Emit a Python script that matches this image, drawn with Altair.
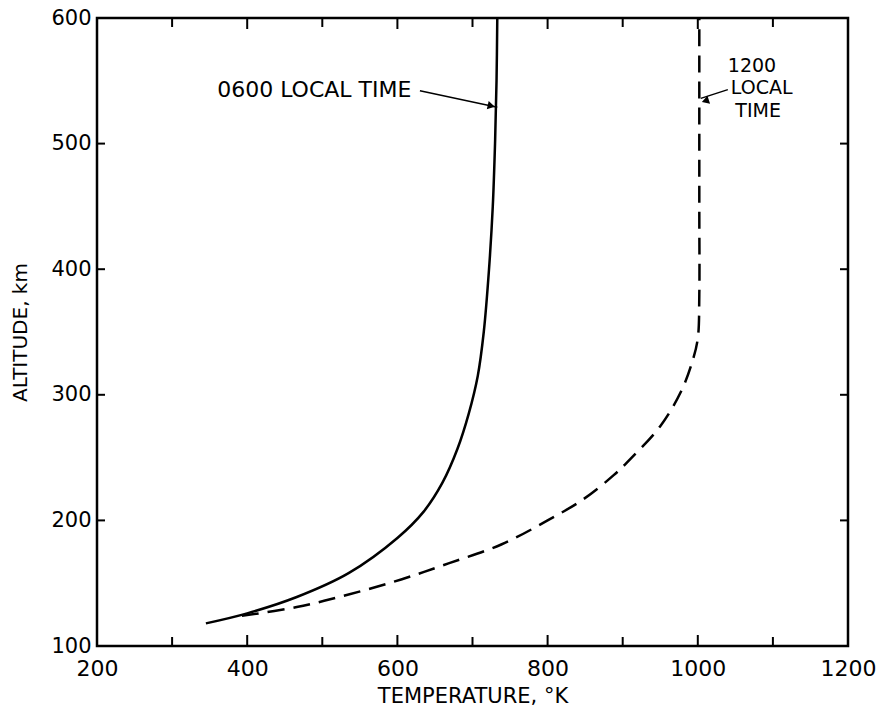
import altair as alt
import pandas as pd

# Thermospheric temperature profiles: altitude (km) against temperature (K)
alt_0600 = [118, 126, 139, 158, 186, 207, 230, 257, 285, 315, 350, 400, 450, 500, 550, 600]
temp_0600 = [345, 400, 466, 535, 600, 635, 660, 680, 695, 707, 715, 722, 727, 730, 732, 733]

alt_1200 = [124, 131, 141, 153, 166, 181, 200, 217, 236, 250, 275, 303, 327, 345, 380, 450, 600]
temp_1200 = [393, 466, 535, 605, 669, 739, 800, 848, 888, 912, 950, 978, 993, 1000, 1002, 1002, 1002]

# Axis labels and inner tick positions
x_labels = [200, 400, 600, 800, 1000, 1200]
y_labels = [100, 200, 300, 400, 500, 600]
x_major_ticks = [400, 600, 800, 1000]
x_minor_ticks = [300, 500, 700, 900, 1100]
y_ticks = [200, 300, 400, 500]

# Annotations
main_label = ["0600 LOCAL TIME"]
main_label_temp = [360]
main_label_alt = [543]

stack_label = ["1200", "LOCAL", "TIME"]
stack_label_temp = [1040, 1044, 1050]
stack_label_alt = [562, 544, 526]

arrow_id = ["a", "a", "b", "b"]
arrow_temp = [630, 733, 1040, 1004]
arrow_alt = [542, 529, 543, 536]

head_temp = [725, 1010]
head_alt = [530, 534]
head_angle = [13, 162]

W, H = 751, 628
X0, X1, Y0, Y1 = 200, 1200, 100, 600
k_per_px = (X1 - X0) / W
km_per_px = (Y1 - Y0) / H

FONT = "DejaVu Sans"

x_scale = alt.Scale(domain=[X0, X1], nice=False, zero=False)
y_scale = alt.Scale(domain=[Y0, Y1], nice=False, zero=False)

profiles = pd.concat([
    pd.DataFrame({"T": temp_0600, "z": alt_0600, "time": "0600"}),
    pd.DataFrame({"T": temp_1200, "z": alt_1200, "time": "1200"}),
])

x_enc = alt.X(
    "T:Q", scale=x_scale,
    axis=alt.Axis(
        values=x_labels, format="d", title="TEMPERATURE, °K",
        tickSize=0, domain=False, grid=False, labelFlush=False, labelOverlap=False,
        labelFont=FONT, labelFontSize=22, labelColor="black", labelPadding=12,
        titleFont=FONT, titleFontSize=21, titleFontWeight="normal", titleColor="black",
        titlePadding=6,
    ),
)
y_enc = alt.Y(
    "z:Q", scale=y_scale,
    axis=alt.Axis(
        values=y_labels, format="d", title="ALTITUDE,  km",
        tickSize=0, domain=False, grid=False, labelOverlap=False,
        labelFont=FONT, labelFontSize=21, labelColor="black", labelPadding=6,
        titleFont=FONT, titleFontSize=20, titleFontWeight="normal", titleColor="black",
        titleAngle=270, titleX=-77, titleY=H / 2, titleAlign="center", titleBaseline="middle",
    ),
)

solid = alt.Chart(profiles[profiles.time == "0600"]).mark_line(
    color="black", strokeWidth=2.5, interpolate="catmull-rom"
).encode(x=x_enc, y=y_enc, order="z:Q")

dashed = alt.Chart(profiles[profiles.time == "1200"]).mark_line(
    color="black", strokeWidth=2.5, strokeDash=[17, 9], interpolate="catmull-rom"
).encode(x="T:Q", y="z:Q", order="z:Q")

# Inward tick marks on all four sides
major_len, minor_len, y_len = 11, 9, 8
tick_rows = []
for v in x_major_ticks:
    tick_rows.append({"x": v, "x2": v, "y": Y0, "y2": Y0 + major_len * km_per_px})
    tick_rows.append({"x": v, "x2": v, "y": Y1, "y2": Y1 - major_len * km_per_px})
for v in x_minor_ticks:
    tick_rows.append({"x": v, "x2": v, "y": Y0, "y2": Y0 + minor_len * km_per_px})
    tick_rows.append({"x": v, "x2": v, "y": Y1, "y2": Y1 - minor_len * km_per_px})
for v in y_ticks:
    tick_rows.append({"x": X0, "x2": X0 + y_len * k_per_px, "y": v, "y2": v})
    tick_rows.append({"x": X1, "x2": X1 - y_len * k_per_px, "y": v, "y2": v})

ticks = alt.Chart(pd.DataFrame(tick_rows)).mark_rule(
    color="black", strokeWidth=2
).encode(x="x:Q", x2="x2:Q", y="y:Q", y2="y2:Q")

main_text = alt.Chart(pd.DataFrame({
    "text": main_label, "T": main_label_temp, "z": main_label_alt
})).mark_text(
    font=FONT, fontSize=22, color="black", align="left", baseline="middle"
).encode(x="T:Q", y="z:Q", text="text:N")

stack_text = alt.Chart(pd.DataFrame({
    "text": stack_label, "T": stack_label_temp, "z": stack_label_alt
})).mark_text(
    font=FONT, fontSize=19, color="black", align="left", baseline="middle"
).encode(x="T:Q", y="z:Q", text="text:N")

arrows = alt.Chart(pd.DataFrame({"id": arrow_id, "T": arrow_temp, "z": arrow_alt})).mark_line(
    color="black", strokeWidth=1.5
).encode(x="T:Q", y="z:Q", detail="id:N")

heads = alt.Chart(pd.DataFrame({"T": head_temp, "z": head_alt, "angle": head_angle})).mark_point(
    shape="triangle-right", filled=True, color="black", size=70, opacity=1
).encode(x="T:Q", y="z:Q", angle=alt.Angle("angle:Q", scale=None))

chart = alt.layer(solid, dashed, ticks, arrows, heads, main_text, stack_text).properties(
    width=W, height=H,
    autosize=alt.AutoSizeParams(type="none"),
    padding={"left": 97, "top": 18, "right": 35, "bottom": 72},
).configure(
    background="white"
).configure_view(
    stroke="black", strokeWidth=2.5
)

chart.save("out.html", embed_options={"renderer": "svg", "actions": False})
